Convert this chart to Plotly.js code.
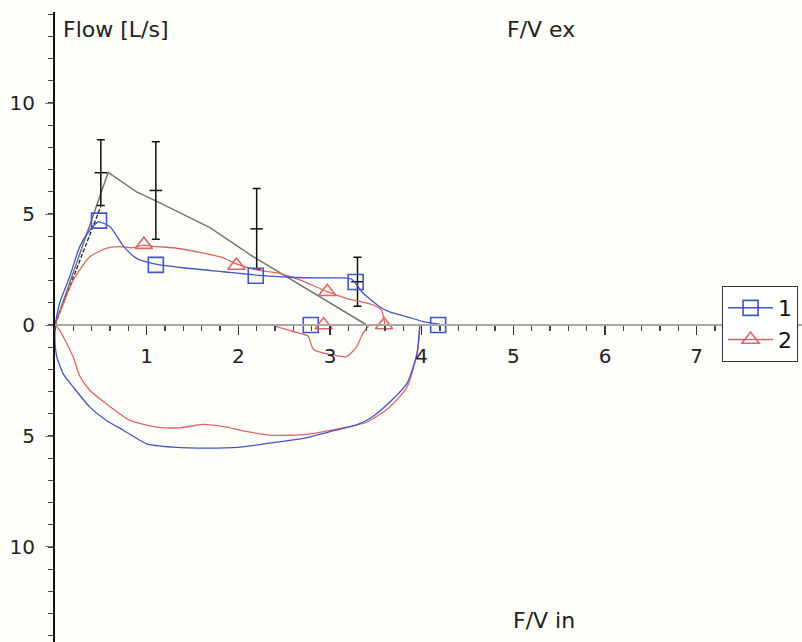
<!DOCTYPE html>
<html><head><meta charset="utf-8">
<script src="https://cdn.plot.ly/plotly-3.0.1.min.js"></script>
<style>html,body{margin:0;padding:0;background:#fdfdf9;}#chart{width:802px;height:642px;}</style>
</head><body><div id="chart"></div>
<script>
// ---- data (volume [L] vs flow [L/s]) ----
const seriesNames = ["1", "2"];

const vol1Ex  = [0, 0.05, 0.16, 0.27, 0.38, 0.47, 0.6, 0.75, 0.89, 1.07, 1.4, 1.83, 2.19, 2.56, 2.92, 3.15, 3.24, 3.36, 3.55, 3.65, 3.84, 4.02, 4.2];
const flow1Ex = [0, 0.98, 2.17, 3.53, 4.28, 4.64, 4.43, 3.53, 3.0, 2.77, 2.58, 2.4, 2.25, 2.15, 2.12, 2.12, 2.05, 1.44, 0.8, 0.59, 0.37, 0.15, 0.04];
const vol1In  = [0, 0, 0.02, 0.09, 0.2, 0.38, 0.56, 0.75, 1.0, 1.29, 1.66, 2.02, 2.38, 2.75, 3.0, 3.29, 3.44, 3.65, 3.84, 3.95, 3.98];
const flow1In = [0, -0.8, -1.44, -2.2, -2.8, -3.7, -4.3, -4.75, -5.35, -5.5, -5.55, -5.5, -5.3, -5.07, -4.8, -4.5, -4.2, -3.48, -2.63, -1.27, 0];
const vol1Mark  = [0.48, 1.1, 2.19, 3.28, 2.79, 4.18];
const flow1Mark = [4.7, 2.71, 2.22, 1.94, 0, 0];

const vol2Ex  = [0, 0.05, 0.2, 0.38, 0.56, 0.71, 0.85, 0.96, 1.11, 1.29, 1.58, 1.83, 1.98, 2.2, 2.45, 2.67, 2.86, 2.97, 3.18, 3.47, 3.56, 3.6];
const flow2Ex = [0, 0.53, 2.03, 3.07, 3.45, 3.53, 3.48, 3.6, 3.53, 3.48, 3.27, 3.03, 2.75, 2.48, 2.33, 2.03, 1.7, 1.5, 1.2, 0.9, 0.68, 0];
const vol2Dip  = [2.4, 2.6, 2.76, 2.82, 3.03, 3.18, 3.29, 3.36, 3.43];
const flow2Dip = [-0.05, -0.3, -0.5, -1.1, -1.35, -1.43, -0.98, -0.37, 0];
const vol2In  = [0, 0.05, 0.2, 0.27, 0.38, 0.56, 0.82, 1.11, 1.36, 1.62, 1.87, 2.13, 2.38, 2.75, 3.11, 3.4, 3.65, 3.84, 3.95, 3.98];
const flow2In = [0, -0.23, -1.45, -2.3, -2.94, -3.55, -4.3, -4.6, -4.63, -4.48, -4.6, -4.83, -4.97, -4.93, -4.66, -4.38, -3.7, -2.8, -1.27, 0];
const vol2Mark  = [0.97, 1.98, 2.97, 2.93, 3.59];
const flow2Mark = [3.62, 2.68, 1.5, 0, 0];

const refVol  = [0, 0.58, 0.89, 1.11, 1.69, 2.16, 3.4];
const refFlow = [0, 6.87, 6.0, 5.57, 4.39, 3.08, 0];
const lowVol  = [0, 0.5];
const lowFlow = [0, 5.35];
const barVol  = [0.5, 1.1, 2.2, 3.3];
const barFlow = [6.86, 6.06, 4.33, 1.95];
const barErr  = [1.48, 2.2, 1.82, 1.1];

const yTickVals = [-10, -5, 0, 5, 10];
const yTickText = ["10", "5", "0", "5", "10"];
const xTickVals = [1, 2, 3, 4, 5, 6, 7];
const xTickText = ["1", "2", "3", "4", "5", "6", "7"];

// ---- helpers ----
function joinSegments(segs) {
  const x = [], y = [];
  segs.forEach((s, i) => { if (i) { x.push(null); y.push(null); } x.push(...s[0]); y.push(...s[1]); });
  return {x, y};
}
function isolate(xs, ys) {
  const x = [], y = [];
  xs.forEach((v, i) => { if (i) { x.push(null); y.push(null); } x.push(v); y.push(ys[i]); });
  return {x, y};
}

const BLUE = '#4155cc', RED = '#e06464', GREY = '#767676';
const c1 = joinSegments([[vol1Ex, flow1Ex], [vol1In, flow1In]]);
const c2 = joinSegments([[vol2Ex, flow2Ex], [vol2Dip, flow2Dip], [vol2In, flow2In]]);
const m1 = isolate(vol1Mark, flow1Mark);
const m2 = isolate(vol2Mark, flow2Mark);

const traces = [
  {x: refVol, y: refFlow, mode: 'lines', line: {color: GREY, width: 1.5}, showlegend: false, hoverinfo: 'skip'},
  {x: lowVol, y: lowFlow, mode: 'lines', line: {color: '#222', width: 1.3, dash: '4px,2px'}, showlegend: false, hoverinfo: 'skip'},
  {x: barVol, y: barFlow, mode: 'markers', marker: {symbol: 'line-ew-open', size: 9, color: '#111', line: {width: 1.5, color: '#111'}},
   error_y: {type: 'data', array: barErr, visible: true, color: '#111', thickness: 1.5, width: 4}, showlegend: false},
  {x: c2.x, y: c2.y, mode: 'lines', line: {color: RED, width: 1.3, shape: 'spline', smoothing: 0.6}, connectgaps: false, showlegend: false, legendgroup: 'b'},
  {x: c1.x, y: c1.y, mode: 'lines', line: {color: BLUE, width: 1.3, shape: 'spline', smoothing: 0.6}, connectgaps: false, showlegend: false, legendgroup: 'a'},
  {x: m1.x, y: m1.y, name: seriesNames[0], mode: 'lines+markers', connectgaps: false, legendgroup: 'a',
   line: {color: BLUE, width: 1.5}, marker: {symbol: 'square-open', size: 15, color: BLUE, line: {width: 1.6}}},
  {x: m2.x, y: m2.y, name: seriesNames[1], mode: 'lines+markers', connectgaps: false, legendgroup: 'b',
   line: {color: RED, width: 1.5}, marker: {symbol: 'triangle-up-open', size: 15, color: RED, line: {width: 1.6}}}
];

const yRange = [-14.28, 14.1];
const yZeroFrac = -yRange[0] / (yRange[1] - yRange[0]);

const layout = {
  width: 802, height: 642,
  paper_bgcolor: '#fdfdf9', plot_bgcolor: '#fdfdf9',
  margin: {l: 55, r: 0, t: 12, b: 0},
  font: {family: 'DejaVu Sans, Verdana, sans-serif', color: '#222'},
  xaxis: {
    range: [0, 8.149], anchor: 'free', position: yZeroFrac,
    tickvals: xTickVals, ticktext: xTickText, ticks: 'outside', ticklen: 9, tickwidth: 1.5, tickcolor: '#333',
    showline: true, linecolor: '#a8a8a8', linewidth: 2, showgrid: false, zeroline: false,
    tickfont: {size: 20, color: '#222'}, ticklabelstandoff: 4,
    minor: {dtick: 0.2, tick0: 0, ticks: 'outside', ticklen: 5, tickwidth: 1.3, tickcolor: '#444', showgrid: false}
  },
  yaxis: {
    range: yRange, tickvals: yTickVals, ticktext: yTickText, ticks: 'outside', ticklen: 8, tickwidth: 1, tickcolor: '#777',
    showline: true, linecolor: '#111', linewidth: 2, showgrid: false, zeroline: false,
    tickfont: {size: 20, color: '#222'}, ticklabelstandoff: 6,
    minor: {dtick: 1, ticks: 'outside', ticklen: 5, tickwidth: 1.3, tickcolor: '#444', showgrid: false}
  },
  legend: {x: 0.893, xanchor: 'left', y: 0.565, yanchor: 'top', bgcolor: '#ffffff', bordercolor: '#333', borderwidth: 1,
    font: {size: 22, color: '#111'}, itemwidth: 45, tracegroupgap: 0, traceorder: 'normal'},
  annotations: [
    {text: 'Flow [L/s]', x: 0.06, y: 13.3, xref: 'x', yref: 'y', xanchor: 'left', yanchor: 'middle', showarrow: false, font: {size: 22, color: '#222'}},
    {text: 'F/V ex', x: 5.30, y: 13.3, xref: 'x', yref: 'y', xanchor: 'center', yanchor: 'middle', showarrow: false, font: {size: 22, color: '#222'}},
    {text: 'F/V in', x: 5.33, y: -13.29, xref: 'x', yref: 'y', xanchor: 'center', yanchor: 'middle', showarrow: false, font: {size: 22, color: '#222'}}
  ]
};

Plotly.newPlot('chart', traces, layout, {displayModeBar: false, staticPlot: true});
</script>
</body></html>
